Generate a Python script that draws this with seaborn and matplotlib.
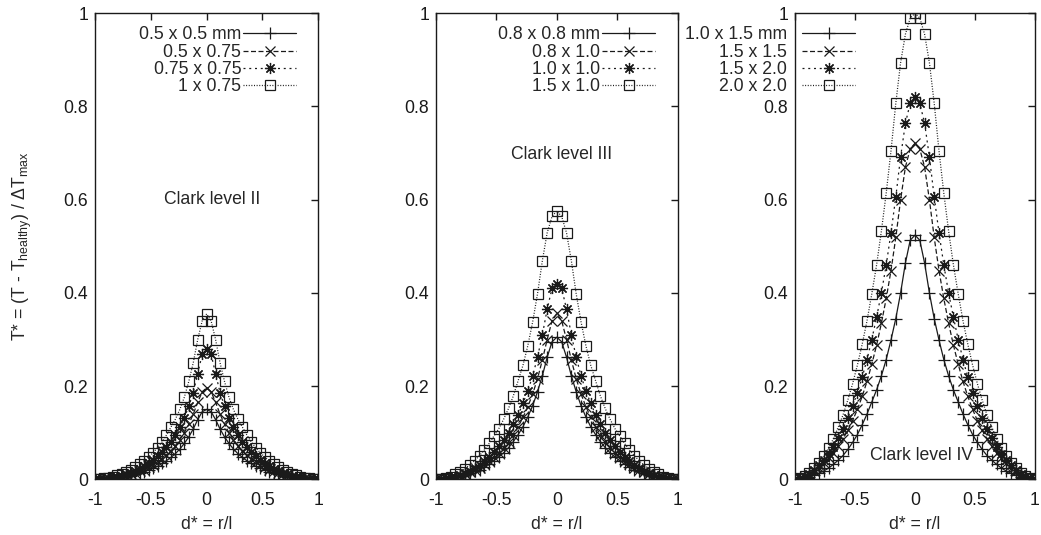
import matplotlib
matplotlib.use("Agg")
import numpy as np
import pandas as pd
import seaborn as sns
import matplotlib.pyplot as plt

# ---------------- data (right half, curves are symmetric about d*=0) ----------------
d_half = [0.00, 0.04, 0.08, 0.12, 0.16, 0.20, 0.24, 0.28, 0.32, 0.36, 0.40, 0.44, 0.48,
          0.52, 0.56, 0.60, 0.64, 0.68, 0.72, 0.76, 0.80, 0.84, 0.88, 0.92, 0.96, 1.00]

# Clark level II
p1_labels = ["0.5 x 0.5 mm", "0.5 x 0.75", "0.75 x 0.75", "1 x 0.75"]
p1_s1 = [0.150, 0.145, 0.128, 0.108, 0.091, 0.077, 0.065, 0.055, 0.047, 0.040, 0.034, 0.028, 0.024,
         0.020, 0.016, 0.013, 0.011, 0.008, 0.006, 0.005, 0.003, 0.002, 0.001, 0.0007, 0.0002, 0.0]
p1_s2 = [0.196, 0.188, 0.165, 0.140, 0.118, 0.100, 0.085, 0.072, 0.061, 0.052, 0.044, 0.037, 0.031,
         0.026, 0.021, 0.017, 0.014, 0.011, 0.008, 0.006, 0.004, 0.003, 0.002, 0.001, 0.0003, 0.0]
p1_s3 = [0.280, 0.268, 0.227, 0.186, 0.157, 0.132, 0.112, 0.095, 0.081, 0.069, 0.058, 0.049, 0.041,
         0.034, 0.028, 0.023, 0.018, 0.014, 0.011, 0.008, 0.006, 0.004, 0.002, 0.001, 0.0003, 0.0]
p1_s4 = [0.355, 0.340, 0.300, 0.250, 0.210, 0.176, 0.150, 0.129, 0.112, 0.095, 0.080, 0.068, 0.057,
         0.048, 0.040, 0.033, 0.027, 0.021, 0.016, 0.012, 0.009, 0.006, 0.003, 0.002, 0.0005, 0.0]

# Clark level III
p2_labels = ["0.8 x 0.8 mm", "0.8 x 1.0", "1.0 x 1.0", "1.5 x 1.0"]
p2_s1 = [0.305, 0.295, 0.262, 0.222, 0.188, 0.158, 0.134, 0.113, 0.096, 0.081, 0.068, 0.057, 0.048,
         0.040, 0.033, 0.027, 0.021, 0.017, 0.013, 0.009, 0.007, 0.004, 0.003, 0.001, 0.0005, 0.0]
p2_s2 = [0.356, 0.340, 0.300, 0.256, 0.216, 0.183, 0.156, 0.133, 0.113, 0.096, 0.081, 0.068, 0.057,
         0.047, 0.039, 0.032, 0.025, 0.020, 0.015, 0.011, 0.008, 0.005, 0.003, 0.0015, 0.0005, 0.0]
p2_s3 = [0.420, 0.410, 0.365, 0.310, 0.262, 0.222, 0.190, 0.163, 0.139, 0.119, 0.100, 0.085, 0.071,
         0.059, 0.048, 0.039, 0.031, 0.024, 0.018, 0.013, 0.009, 0.006, 0.004, 0.002, 0.0007, 0.0]
p2_s4 = [0.576, 0.564, 0.529, 0.469, 0.398, 0.338, 0.287, 0.245, 0.212, 0.179, 0.152, 0.129, 0.109,
         0.093, 0.077, 0.063, 0.051, 0.040, 0.031, 0.023, 0.016, 0.011, 0.006, 0.003, 0.001, 0.0]

# Clark level IV
p3_labels = ["1.0 x 1.5 mm", "1.5 x 1.5", "1.5 x 2.0", "2.0 x 2.0"]
p3_s1 = [0.524, 0.513, 0.464, 0.400, 0.345, 0.299, 0.257, 0.222, 0.192, 0.166, 0.140, 0.117, 0.096,
         0.079, 0.064, 0.051, 0.041, 0.032, 0.024, 0.018, 0.013, 0.009, 0.005, 0.003, 0.001, 0.0]
p3_s2 = [0.721, 0.709, 0.670, 0.600, 0.519, 0.448, 0.388, 0.335, 0.288, 0.247, 0.210, 0.178, 0.150,
         0.126, 0.105, 0.087, 0.071, 0.057, 0.045, 0.034, 0.025, 0.017, 0.010, 0.005, 0.002, 0.0]
p3_s3 = [0.821, 0.807, 0.764, 0.692, 0.606, 0.529, 0.460, 0.400, 0.348, 0.300, 0.257, 0.219, 0.186,
         0.157, 0.131, 0.108, 0.088, 0.070, 0.054, 0.041, 0.030, 0.020, 0.012, 0.006, 0.002, 0.0]
p3_s4 = [1.000, 0.990, 0.955, 0.894, 0.807, 0.705, 0.614, 0.533, 0.460, 0.398, 0.340, 0.290, 0.245,
         0.205, 0.170, 0.138, 0.112, 0.087, 0.067, 0.050, 0.036, 0.024, 0.014, 0.007, 0.002, 0.0]

x_ticks = [-1, -0.5, 0, 0.5, 1]
x_ticklabels = ["-1", "-0.5", "0", "0.5", "1"]
y_ticks = [0, 0.2, 0.4, 0.6, 0.8, 1.0]
y_ticklabels = ["0", "0.2", "0.4", "0.6", "0.8", "1"]
titles = ["Clark level II", "Clark level III", "Clark level IV"]


def full(vals):
    d = [-v for v in d_half[::-1]] + d_half[1:]
    y = list(vals[::-1]) + list(vals[1:])
    return d, y


# ---------------- style ----------------
sns.set_theme(style="white")
plt.rcParams["font.family"] = ["Liberation Sans", "DejaVu Sans"]
plt.rcParams["mathtext.default"] = "regular"
FS = 12.7

fig = plt.figure(figsize=(10.41, 5.35), dpi=100)
fig.patch.set_facecolor("white")

axes_rects = [
    [95 / 1041, 55.7 / 535, 223.3 / 1041, 466 / 535],
    [436 / 1041, 55.7 / 535, 241.7 / 1041, 466 / 535],
    [795 / 1041, 55.7 / 535, 240 / 1041, 466 / 535],
]

styles = [
    dict(marker="+", markersize=8, linestyle="-"),
    dict(marker="x", markersize=6.5, linestyle=(0, (4, 2))),
    dict(marker=(8, 2, 0), markersize=8, linestyle=(0, (1.6, 3.0))),
    dict(marker="s", markersize=6.5, linestyle=(0, (0.8, 1.3))),
]

panels = [
    (p1_labels, [p1_s1, p1_s2, p1_s3, p1_s4]),
    (p2_labels, [p2_s1, p2_s2, p2_s3, p2_s4]),
    (p3_labels, [p3_s1, p3_s2, p3_s3, p3_s4]),
]

text_pos = [(0.045, 0.60), (0.04, 0.696), (0.053, 0.05)]
legend_anchor = [(0.90, 0.972), (0.906, 0.972), (0.25, 0.972)]
legend_textpad = [0.1, 0.1, 0.85]

for i, (rect, (labels, series)) in enumerate(zip(axes_rects, panels)):
    ax = fig.add_axes(rect)
    ax.set_facecolor("white")
    for lab, vals, st in zip(labels, series, styles):
        dx, dy = full(vals)
        df = pd.DataFrame({"d": dx, "T": dy})
        sns.lineplot(data=df, x="d", y="T", ax=ax, color="k", estimator=None, sort=False,
                     legend=False, label=lab, linewidth=0.9,
                     marker=st["marker"], markersize=st["markersize"],
                     linestyle=st["linestyle"], markeredgecolor="k",
                     markerfacecolor="none", markeredgewidth=0.9)
    ax.set_xlim(-1, 1)
    ax.set_ylim(0, 1)
    ax.set_xticks(x_ticks)
    ax.set_xticklabels(x_ticklabels)
    ax.set_yticks(y_ticks)
    ax.set_yticklabels(y_ticklabels)
    ax.tick_params(axis="both", direction="in", length=5, width=1, top=True, right=True,
                   labelsize=FS, colors="k")
    ax.tick_params(axis="x", pad=9.5)
    ax.tick_params(axis="y", pad=5)
    for sp in ax.spines.values():
        sp.set_visible(True)
        sp.set_color("k")
        sp.set_linewidth(1.0)
    ax.set_xlabel("d* = r/l", fontsize=FS, labelpad=5)
    if i == 0:
        ax.set_ylabel("T* = (T - T$_{healthy}$) / ΔT$_{max}$", fontsize=FS)
        ax.yaxis.set_label_coords(-0.275, 0.5)
    else:
        ax.set_ylabel("")
    ax.text(text_pos[i][0], text_pos[i][1], titles[i], ha="center", va="center", fontsize=FS)
    handles = ax.get_lines()
    leg = ax.legend(handles, labels, loc="upper right", bbox_to_anchor=legend_anchor[i],
                    bbox_transform=ax.transAxes, frameon=False, markerfirst=False,
                    fontsize=FS, handlelength=3.0, handletextpad=legend_textpad[i],
                    labelspacing=0.02, borderpad=0, borderaxespad=0, numpoints=1)

fig.savefig("out.png", dpi=100, facecolor="white")
